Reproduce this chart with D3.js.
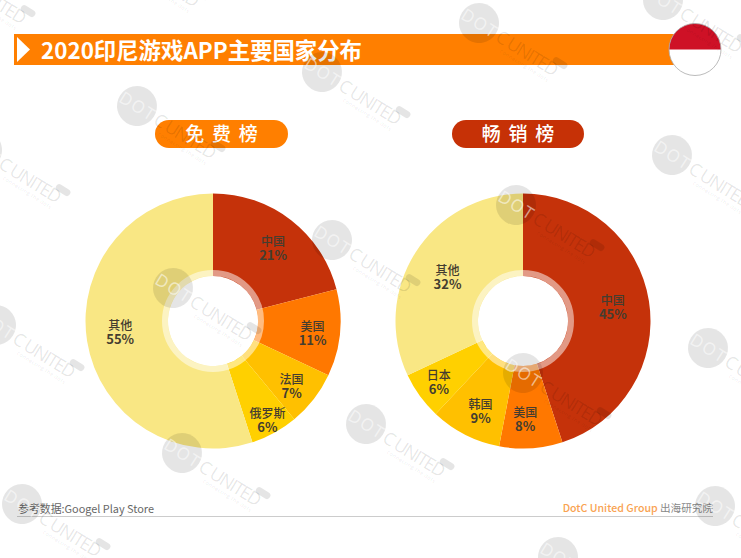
<!DOCTYPE html>
<html>
<head>
<meta charset="utf-8">
<title>2020印尼游戏APP主要国家分布</title>
<script src="https://cdn.jsdelivr.net/npm/d3@7"></script>
<style>
  html, body { margin: 0; padding: 0; background: #fff; }
  svg { display: block; }
  text { font-family: "Noto Sans CJK SC", "Noto Sans", sans-serif; }
  .stamp text { font-family: "Open Sans", sans-serif; }
</style>
</head>
<body>
<div id="chart"></div>
<script>
'use strict';

var freeCountries = ['中国', '美国', '法国', '俄罗斯', '其他'];
var freeValues = [21, 11, 7, 6, 55];

var paidCountries = ['中国', '美国', '韩国', '日本', '其他'];
var paidValues = [45, 8, 9, 6, 32];

var titleText = '2020印尼游戏APP主要国家分布';
var sourceText = '参考数据:Googel Play Store';

// label distance from the centre, placed by hand in the original
var freeLabelRadius = [98, 101, 102, 113, 92];
var paidLabelRadius = [93, 99, 100, 104, 87];
var freeLabelNudge = [[0, 4], [-1, 2], [-2, 2], [0, 0], [-2, -3]];
var paidLabelNudge = [[-2, 1], [-4, -1], [3, 1], [0, 0], [-2, 3]];

var sliceColors = ['#c5320a', '#ff7800', '#ffc000', '#ffd000', '#f9e784'];

// centres of the repeated background stamp
var stampCentres = [[-53, -29], [120, -46], [137, 106], [322, 72], [479, 23], [663, 0],
    [-18, 150], [173, 288], [332, 240], [516, 205], [672, 155], [-4, 325], [523, 373],
    [708, 348], [182, 453], [366, 424], [22, 504], [715, 506], [558, 557]];

var width = 741,
    height = 558;

var svg = d3.select('#chart').append('svg')
    .attr('width', width)
    .attr('height', height)
    .attr('viewBox', '0 0 ' + width + ' ' + height);

svg.append('rect').attr('width', width).attr('height', height).attr('fill', '#fff');

// header bar
svg.append('rect')
    .attr('x', 14).attr('y', 34)
    .attr('width', 690).attr('height', 31)
    .attr('fill', '#ff7f00');

svg.append('path')
    .attr('d', 'M17,37L30,49.5L17,62Z')
    .attr('fill', '#fff');

svg.append('text')
    .attr('x', 41).attr('y', 59)
    .attr('font-size', 22.4)
    .attr('font-weight', 700)
    .attr('fill', '#fff')
    .text(titleText);

// flag
var flag = svg.append('g').attr('transform', 'translate(695,49.5)');
var flagArc = d3.arc().innerRadius(0).outerRadius(26);
flag.append('circle').attr('r', 26).attr('fill', '#fff');
flag.append('path')
    .attr('d', flagArc({startAngle: -Math.PI / 2, endAngle: Math.PI / 2}))
    .attr('fill', '#ce1126');
flag.append('circle').attr('r', 26).attr('fill', 'none').attr('stroke', '#aaa').attr('stroke-width', 0.8);

function drawPill(x, y, w, h, color, label) {
    svg.append('rect')
        .attr('x', x).attr('y', y)
        .attr('width', w).attr('height', h)
        .attr('rx', h / 2)
        .attr('fill', color);
    svg.append('text')
        .attr('x', x + w / 2).attr('y', y + h / 2 + 7)
        .attr('text-anchor', 'middle')
        .attr('font-size', 19)
        .attr('font-weight', 500)
        .attr('word-spacing', 3.5)
        .attr('fill', '#fff')
        .text(label);
}

function drawDonut(cx, cy, countries, values, labelRadius, labelNudge) {
    var outer = 127.5,
        inner = 45,
        ring = 51;

    var color = d3.scaleOrdinal().domain(countries).range(sliceColors);
    var pie = d3.pie().sort(null).value(function(d, i) { return values[i]; });
    var arc = d3.arc().innerRadius(inner).outerRadius(outer);

    var g = svg.append('g').attr('transform', 'translate(' + cx + ',' + cy + ')');
    var slices = pie(countries);

    g.selectAll('path.slice')
        .data(slices)
        .enter().append('path')
        .attr('class', 'slice')
        .attr('d', arc)
        .attr('fill', function(d) { return color(d.data); });

    // translucent ring around the hole
    g.append('circle')
        .attr('r', (inner + ring) / 2)
        .attr('fill', 'none')
        .attr('stroke', '#fff')
        .attr('stroke-opacity', 0.5)
        .attr('stroke-width', ring - inner);

    var labels = g.selectAll('text.label')
        .data(slices)
        .enter().append('text')
        .attr('class', 'label')
        .attr('text-anchor', 'middle')
        .attr('fill', '#443d30')
        .attr('transform', function(d, i) {
            var a = (d.startAngle + d.endAngle) / 2;
            var r = labelRadius[i];
            var x = Math.sin(a) * r + labelNudge[i][0];
            var y = -Math.cos(a) * r + labelNudge[i][1];
            return 'translate(' + x + ',' + y + ')';
        });

    labels.append('tspan')
        .attr('x', 0).attr('y', -2)
        .attr('font-size', 12)
        .attr('font-weight', 500)
        .text(function(d) { return d.data; });

    labels.append('tspan')
        .attr('x', 0).attr('y', 12)
        .attr('font-size', 13)
        .attr('font-weight', 700)
        .text(function(d) { return d.value + '%'; });
}

drawPill(155, 120, 133, 28, '#ff7f00', '免 费 榜');
drawPill(452, 120, 132, 28, '#c63106', '畅 销 榜');

drawDonut(213, 321, freeCountries, freeValues, freeLabelRadius, freeLabelNudge);
drawDonut(523, 321, paidCountries, paidValues, paidLabelRadius, paidLabelNudge);

// footer
svg.append('line')
    .attr('x1', 17).attr('x2', 713)
    .attr('y1', 516.5).attr('y2', 516.5)
    .attr('stroke', '#ccc');

svg.append('text')
    .attr('x', 18).attr('y', 513)
    .attr('font-size', 10.9)
    .attr('fill', '#666')
    .text(sourceText);

var brand = svg.append('text')
    .attr('x', 713).attr('y', 512)
    .attr('text-anchor', 'end')
    .attr('font-size', 10.6);
brand.append('tspan').attr('font-weight', 500).attr('fill', '#f9a352').text('DotC United Group ');
brand.append('tspan').attr('fill', '#888').text('出海研究院');

// watermark stamps sit above everything
var stamps = svg.selectAll('g.stamp')
    .data(stampCentres)
    .enter().append('g')
    .attr('class', 'stamp')
    .attr('transform', function(d) { return 'translate(' + d[0] + ',' + d[1] + ') rotate(32)'; });

stamps.append('circle').attr('r', 20).attr('fill', '#000').attr('fill-opacity', 0.1);

stamps.append('text')
    .attr('x', -19).attr('y', 6)
    .attr('font-size', 17)
    .attr('textLength', 38)
    .attr('fill', '#fff')
    .attr('fill-opacity', 0.55)
    .text('DOT');

stamps.append('text')
    .attr('x', 22).attr('y', 6.5)
    .attr('font-size', 18)
    .attr('textLength', 70)
    .attr('fill', '#000')
    .attr('fill-opacity', 0.1)
    .text('C UNITED');

stamps.append('text')
    .attr('x', 33).attr('y', 14)
    .attr('font-size', 5.5)
    .attr('textLength', 56)
    .attr('fill', '#000')
    .attr('fill-opacity', 0.1)
    .text('connecting the dots');

stamps.append('rect')
    .attr('x', 82).attr('y', -12.5)
    .attr('width', 16).attr('height', 7)
    .attr('rx', 3.5)
    .attr('fill', '#000')
    .attr('fill-opacity', 0.1);
</script>
</body>
</html>
